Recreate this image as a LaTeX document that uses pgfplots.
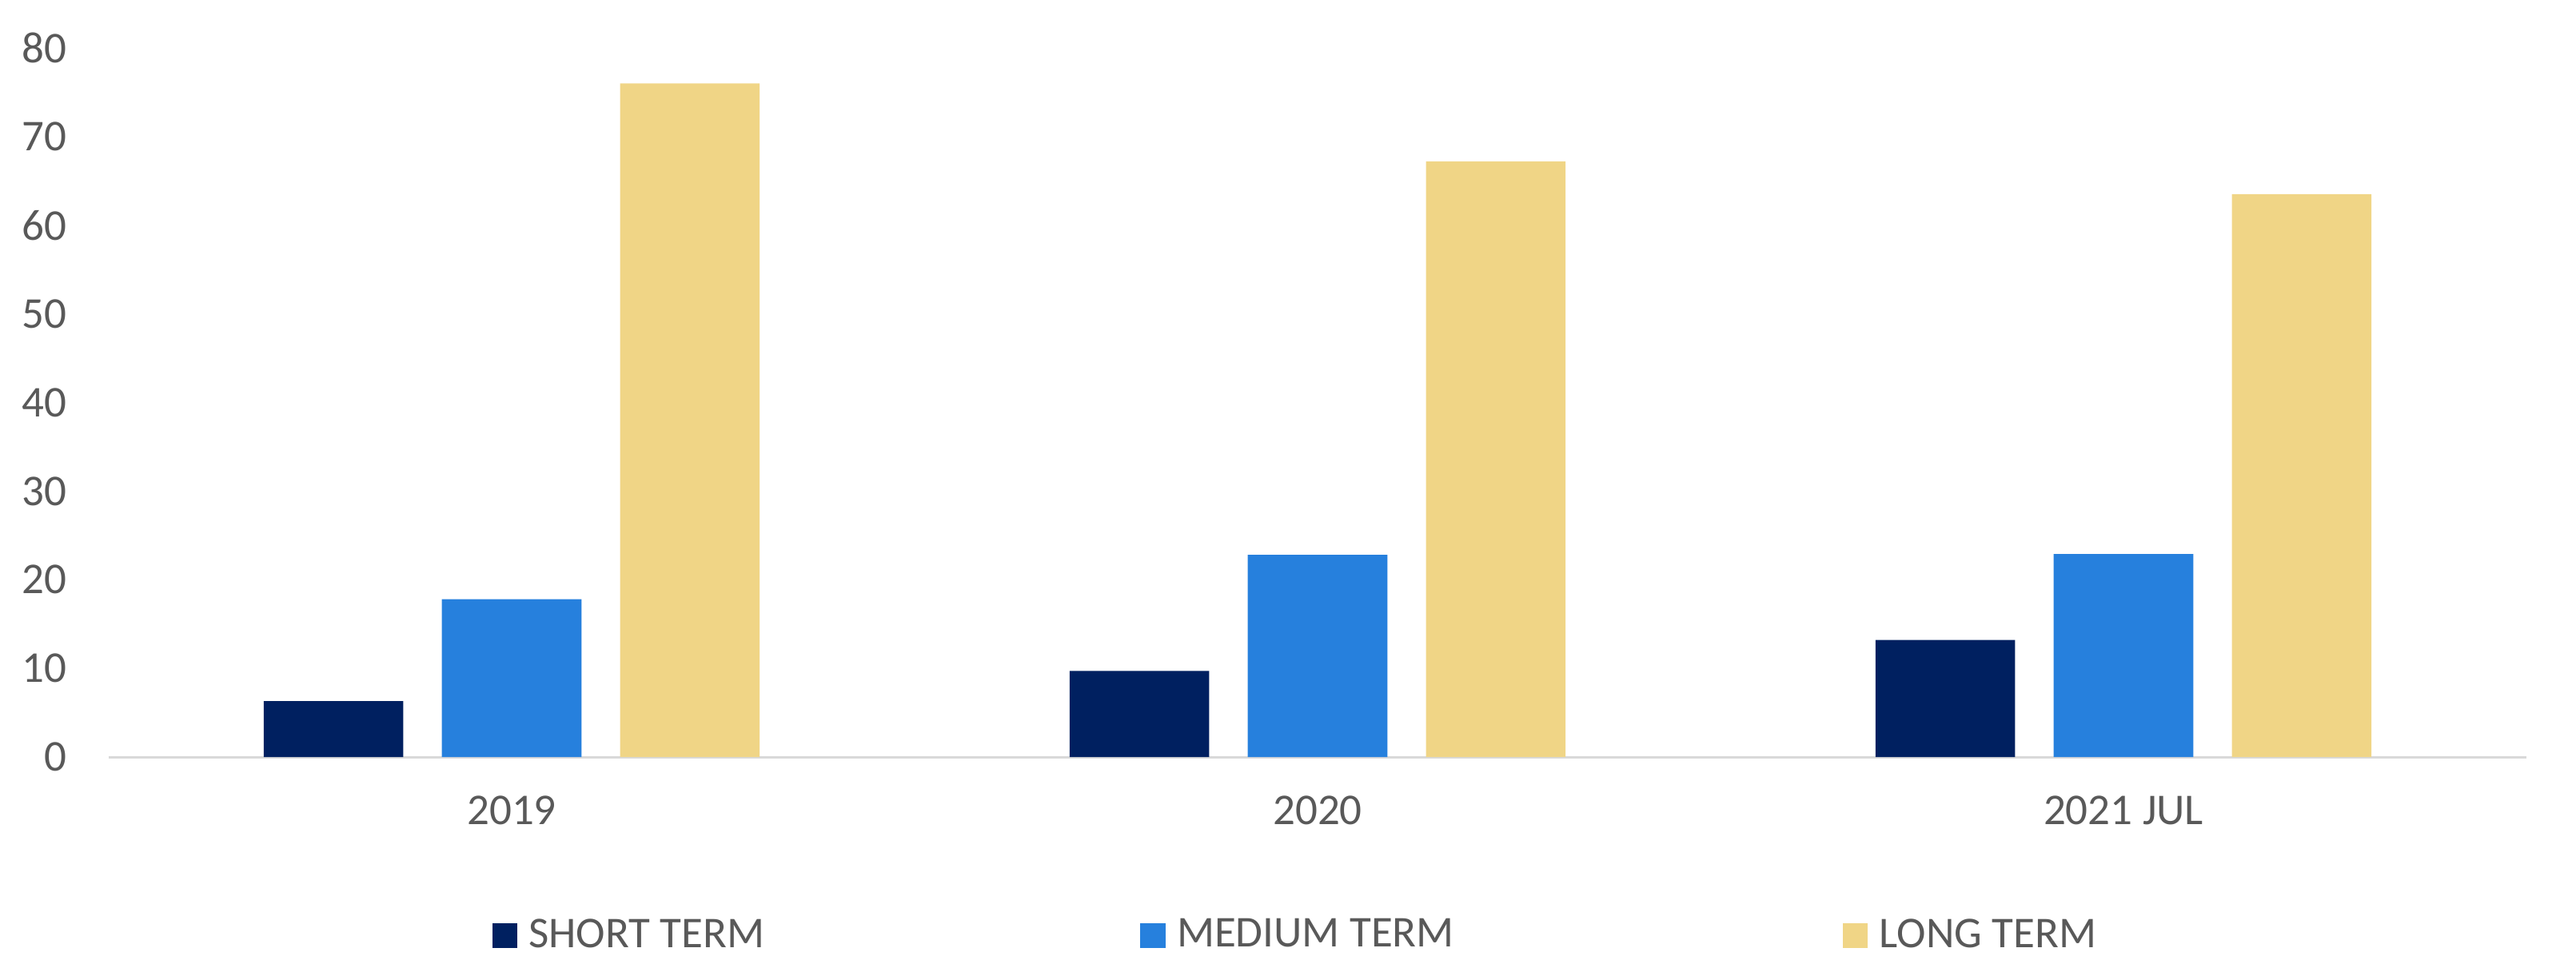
\documentclass[border=0pt]{standalone}
\usepackage{fontspec}
\setmainfont{Carlito}
\usepackage{pgfplots}
\pgfplotsset{compat=1.18}
\definecolor{shortc}{RGB}{0,32,96}
\definecolor{medc}{RGB}{38,128,221}
\definecolor{longc}{RGB}{240,213,134}
\definecolor{txtgray}{RGB}{89,89,89}
\definecolor{axgray}{RGB}{217,217,217}
\pgfplotsset{
  sqlegend/.style={legend image code/.code={\fill[##1] (0pt,-3.1pt) rectangle (6.2pt,3.1pt); \path (9.1pt,0pt);}},
  sqlegendshift/.style={legend image code/.code={\path (-3.3pt,0pt); \fill[##1] (0pt,-3.1pt) rectangle (6.2pt,3.1pt); \path (9.1pt,0pt);}},
}
\begin{document}
\begin{tikzpicture}
\useasboundingbox (-27.2pt,-51.6pt) rectangle (617.2pt,189.4pt);
\begin{axis}[
  scale only axis,
  width=604.8pt, height=177.4pt,
  at={(0pt,0pt)}, anchor=south west,
  xmin=-0.5, xmax=2.5,
  ymin=0, ymax=80,
  ytick={0,10,...,80},
  xtick={0,1,2},
  xticklabels={2019,2020,2021 JUL},
  axis x line*=bottom, axis y line*=left,
  x axis line style={draw=axgray, line width=0.6pt},
  y axis line style={draw=none},
  major tick length=0pt,
  tick style={draw=none},
  /pgf/number format/assume math mode=true,
  tick label style={font=\fontsize{11}{13}\selectfont, text=txtgray},
  yticklabel style={anchor=east, inner sep=0pt, xshift=-10.4pt},
  xticklabel style={anchor=north, inner sep=0pt, yshift=-9.6pt},
  ybar, bar width=0.1732,
  legend style={at={(0.1587,-0.2525)}, anchor=west, draw=none, fill=none,
    inner sep=0pt, outer sep=0pt,
    font=\fontsize{11}{13}\selectfont, text=txtgray,
    nodes={inner sep=0pt},
    /tikz/every even column/.append style={column sep=94pt}},
  legend columns=3,
  sqlegend,
]
\addplot[fill=shortc, draw=none, bar shift=-0.2211] coordinates {(0,6.3) (1,9.7) (2,13.2)};
\addplot[fill=medc, draw=none, bar shift=0] coordinates {(0,17.8) (1,22.8) (2,22.9)};
\addplot[fill=longc, draw=none, bar shift=0.2211, sqlegendshift]
  coordinates {(0,76.0) (1,67.2) (2,63.5)};
\legend{SHORT TERM, MEDIUM TERM, LONG TERM}
\end{axis}
\end{tikzpicture}
\end{document}
